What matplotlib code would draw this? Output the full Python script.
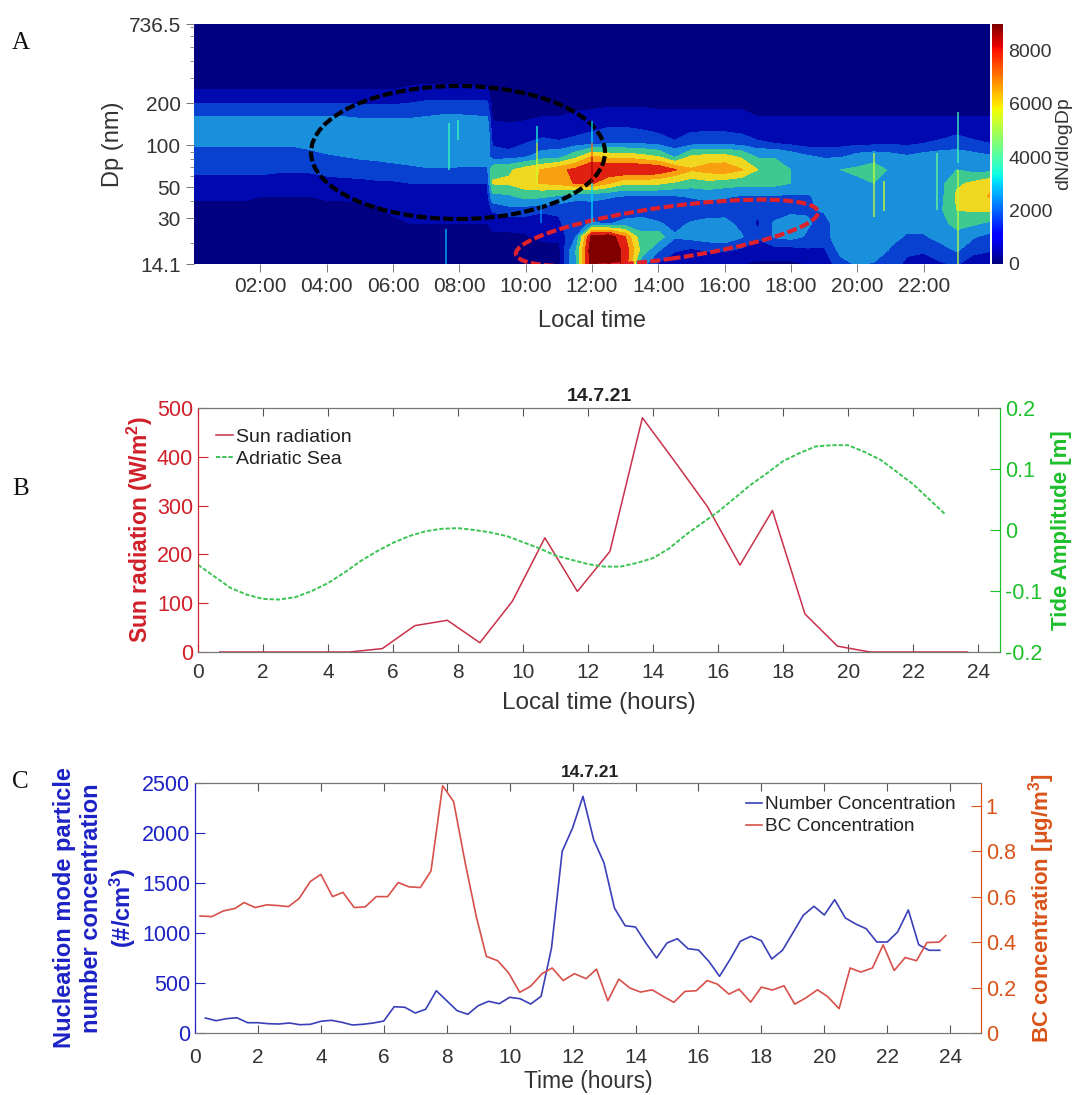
import numpy as np
import matplotlib
matplotlib.use('Agg')
import matplotlib.pyplot as plt
from matplotlib.cm import ScalarMappable
from matplotlib.colors import Normalize
from matplotlib.patches import Ellipse
from matplotlib.transforms import IdentityTransform

plt.rcParams['font.family'] = ['Liberation Sans', 'DejaVu Sans']
plt.rcParams['mathtext.fontset'] = 'custom'
plt.rcParams['mathtext.rm'] = 'Liberation Sans'
plt.rcParams['mathtext.it'] = 'Liberation Sans:italic'
plt.rcParams['mathtext.bf'] = 'Liberation Sans:bold'

W, H = 1086, 1095

# panel A, size distribution (hundreds of dN/dlogDp)
map_hours = [0, 0.5, 1, 1.5, 2, 2.5, 3, 3.5, 4, 4.5, 5, 5.5, 6, 6.5, 7, 7.5, 8, 8.85,
             9.0, 9.5, 10, 10.5, 11, 11.5, 12, 12.5, 13, 13.5, 14, 14.5, 15, 15.5,
             16, 16.5, 17, 17.5, 18, 18.5, 19, 19.5, 20, 20.5, 21, 21.5, 22, 22.5, 23, 23.5, 24]
map_dp = [14.1, 17.8, 22.1, 27.6, 34.4, 42.9, 53.4, 66.6, 82.8, 103, 129, 160, 200, 249, 310, 736.5]
map_rows = [
    [2, 2, 2, 2, 2, 2, 2, 2, 2, 2, 2, 2, 2, 2, 2, 2, 2, 2,
     2, 2, 2, 3, 4, 30, 85, 88, 72, 25, 12, 8, 8, 7, 6, 6, 5, 5, 5, 6, 8, 18, 22, 20, 15, 12, 10, 12, 14, 8, 6],
    [2, 2, 2, 2, 2, 2, 2, 2, 2, 2, 2, 2, 2, 2, 3, 3, 3, 3,
     3, 3, 3, 3, 4, 30, 88, 90, 72, 40, 22, 14, 12, 14, 14, 12, 10, 10, 10, 12, 12, 24, 28, 28, 20, 14, 14, 18, 22, 16, 14],
    [3, 3, 3, 3, 3, 3, 3, 3, 3, 3, 3, 3, 4, 4, 5, 5, 5, 5,
     5, 5, 5, 8, 8, 20, 82, 85, 65, 35, 38, 22, 24, 26, 28, 22, 14, 22, 24, 20, 18, 26, 30, 30, 24, 20, 20, 24, 28, 22, 18],
    [3, 3, 3, 3, 3, 3, 3, 3, 3, 3, 3, 4, 5, 6, 6, 6, 6, 6,
     8, 8, 10, 10, 12, 18, 22, 20, 24, 26, 22, 18, 22, 24, 24, 18, 12, 22, 26, 22, 18, 26, 30, 30, 26, 24, 24, 28, 36, 34, 30],
    [4, 4, 4, 4, 4, 4, 4, 4, 4, 4, 5, 5, 7, 8, 9, 9, 10, 10,
     14, 18, 16, 14, 14, 15, 16, 15, 14, 14, 14, 13, 14, 15, 16, 15, 14, 16, 18, 20, 22, 28, 30, 28, 28, 26, 26, 30, 44, 46, 46],
    [7, 7, 7, 7, 6, 6, 6, 6, 7, 7, 7, 8, 9, 10, 11, 11, 11, 11,
     28, 30, 36, 34, 30, 24, 24, 22, 20, 20, 20, 20, 22, 24, 22, 20, 20, 20, 19, 20, 24, 26, 28, 28, 26, 26, 26, 28, 46, 50, 56],
    [10, 10, 10, 10, 10, 10, 10, 10, 11, 11, 11, 12, 12, 13, 13, 13, 13, 13,
     45, 46, 52, 56, 58, 66, 66, 56, 46, 48, 46, 42, 38, 40, 38, 36, 36, 36, 32, 26, 26, 30, 30, 32, 30, 28, 28, 28, 42, 46, 52],
    [15, 15, 15, 15, 15, 14, 14, 14, 15, 16, 17, 17, 18, 19, 20, 20, 20, 20,
     40, 42, 50, 56, 62, 68, 76, 76, 77, 76, 74, 66, 56, 60, 62, 56, 44, 44, 32, 27, 27, 32, 34, 38, 30, 26, 28, 30, 32, 28, 28],
    [18, 18, 18, 18, 18, 18, 18, 19, 20, 21, 22, 23, 24, 25, 26, 26, 25, 24,
     16, 16, 20, 26, 28, 40, 56, 52, 52, 48, 44, 30, 46, 48, 48, 42, 30, 30, 26, 22, 20, 20, 24, 26, 24, 22, 24, 26, 26, 24, 22],
    [22, 22, 22, 22, 22, 22, 22, 23, 25, 25, 26, 26, 27, 28, 28, 28, 28, 27,
     12, 10, 13, 15, 14, 16, 18, 20, 20, 20, 18, 14, 17, 18, 18, 17, 14, 13, 11, 9, 10, 10, 11, 11, 12, 11, 13, 14, 16, 14, 13],
    [27, 27, 27, 27, 27, 27, 27, 27, 27, 27, 27, 27, 27, 27, 27, 27, 27, 26,
     8, 7, 8, 10, 9, 10, 12, 14, 14, 13, 11, 9, 12, 12, 12, 11, 9, 8, 8, 7, 7, 7, 8, 8, 8, 8, 9, 10, 11, 10, 9],
    [21, 21, 21, 21, 21, 21, 21, 21, 21, 21, 20, 20, 20, 20, 21, 22, 22, 21,
     5, 5, 5, 6, 6, 7, 7, 8, 8, 8, 7, 7, 7, 7, 7, 7, 6, 6, 6, 6, 6, 6, 6, 6, 6, 6, 6, 6, 6, 6, 6],
    [13, 13, 13, 13, 13, 13, 13, 13, 13, 13, 12, 12, 12, 13, 14, 14, 14, 14,
     3, 3, 3, 3, 4, 4, 5, 5, 5, 5, 5, 5, 5, 5, 5, 5, 5, 5, 5, 5, 5, 5, 5, 5, 5, 5, 5, 5, 5, 5, 5],
    [6, 6, 6, 6, 6, 6, 6, 6, 6, 6, 6, 6, 6, 7, 8, 8, 8, 7,
     1, 1, 1, 1, 1, 1, 2, 2, 2, 2, 2, 2, 2, 2, 2, 2, 2, 2, 2, 2, 2, 2, 2, 2, 2, 2, 2, 2, 2, 2, 2],
    [3, 3, 3, 3, 3, 3, 3, 3, 3, 3, 3, 3, 3, 3, 3, 3, 3, 3,
     1, 1, 1, 1, 1, 1, 1, 1, 1, 1, 1, 1, 1, 1, 1, 1, 1, 1, 1, 1, 1, 1, 1, 1, 1, 1, 1, 1, 1, 1, 1],
    [1, 1, 1, 1, 1, 1, 1, 1, 1, 1, 1, 1, 1, 1, 1, 1, 1, 1,
     1, 1, 1, 1, 1, 1, 1, 1, 1, 1, 1, 1, 1, 1, 1, 1, 1, 1, 1, 1, 1, 1, 1, 1, 1, 1, 1, 1, 1, 1, 1],
]
# short bursts: hour, lower Dp, upper Dp, value
spike_hours = [7.7, 7.95, 7.6, 10.33, 10.33, 10.45, 12.0, 12.0, 12.0, 20.5, 20.8, 22.4, 23.05, 23.05, 12.0]
spike_low = [66.6, 109, 14.2, 53.4, 103, 27.6, 53.4, 27.6, 82, 30.8, 34, 34.4, 74, 14.2, 103]
spike_high = [143, 152, 25, 103, 136, 40, 82, 53.4, 103, 87.6, 55, 87.6, 174, 66, 150]
spike_value = [3800, 3800, 2800, 5400, 3500, 2400, 8600, 3000, 7200, 5300, 5500, 4300, 3900, 5200, 3000]

map_ticks = ['02:00', '04:00', '06:00', '08:00', '10:00', '12:00', '14:00', '16:00', '18:00', '20:00', '22:00']
band_edges = [0, 600, 1300, 2100, 3200, 4400, 5500, 6500, 7700, 9000]
band_cols = ['#000080', '#0008b0', '#0840d0', '#1a90dc', '#3fc890', '#f0d820', '#f8a010', '#e02010', '#800000']

# panel B
sun_hours = [0.67, 1.67, 2.67, 3.67, 4.67, 5.67, 6.67, 7.67, 8.67, 9.67, 10.67, 11.67, 12.67,
             13.67, 14.67, 15.67, 16.67, 17.67, 18.67, 19.67, 20.67, 21.67, 22.67, 23.67]
sun_rad = [0, 0, 0, 0, 0, 7, 54, 65, 19, 104, 234, 124, 206, 480, 390, 298, 178, 290, 78, 12, 0, 0, 0, 0]
tide_hours = [0, 0.5, 1, 1.5, 2, 2.5, 3, 3.5, 4, 4.5, 5, 5.5, 6, 6.5, 7, 7.5, 8, 8.5, 9, 9.5, 10, 10.5,
              11, 11.5, 12, 12.5, 13, 13.5, 14, 14.5, 15, 15.5, 16, 16.5, 17, 17.5, 18, 18.5, 19, 19.5,
              20, 20.5, 21, 21.5, 22, 22.5, 23]
tide_amp = [-0.057, -0.076, -0.095, -0.106, -0.113, -0.114, -0.110, -0.100, -0.087, -0.070, -0.051, -0.035,
            -0.021, -0.010, -0.002, 0.002, 0.003, 0.000, -0.004, -0.010, -0.020, -0.030, -0.042, -0.049,
            -0.056, -0.060, -0.060, -0.054, -0.046, -0.030, -0.008, 0.011, 0.030, 0.052, 0.074, 0.093, 0.113,
            0.126, 0.137, 0.139, 0.139, 0.128, 0.115, 0.095, 0.075, 0.050, 0.025]

# panel C
num_hours = [0.33, 0.67, 1, 1.33, 1.67, 2, 2.33, 2.67, 3, 3.33, 3.67, 4, 4.33, 4.67, 5, 5.33, 5.67, 6, 6.33,
             6.67, 7, 7.33, 7.67, 8, 8.33, 8.67, 9, 9.33, 9.67, 10, 10.33, 10.67, 11, 11.33, 11.67, 12, 12.33,
             12.67, 13, 13.33, 13.67, 14, 14.33, 14.67, 15, 15.33, 15.67, 16, 16.33, 16.67, 17, 17.33, 17.67,
             18, 18.33, 18.67, 19, 19.33, 19.67, 20, 20.33, 20.67, 21, 21.33, 21.67, 22, 22.33, 22.67, 23,
             23.33, 23.67]
num_conc = [150, 123, 143, 153, 103, 103, 93, 90, 100, 83, 87, 117, 127, 107, 80, 87, 100, 120, 263,
            257, 200, 237, 423, 323, 223, 187, 273, 317, 293, 357, 343, 290, 367, 850, 1817, 2050, 2367,
            1933, 1700, 1250, 1073, 1060, 900, 750, 900, 943, 843, 830, 717, 567, 733, 917, 967,
            923, 740, 827, 1000, 1177, 1267, 1180, 1333, 1150, 1090, 1043, 910, 910, 1010, 1230, 883,
            827, 827]
bc_hours = [0.16, 0.53, 0.90, 1.27, 1.56, 1.91, 2.28, 2.62, 2.97, 3.31, 3.66, 4.0, 4.37, 4.70, 5.06, 5.41,
            5.76, 6.12, 6.46, 6.80, 7.16, 7.50, 7.87, 8.22, 8.59, 8.94, 9.26, 9.62, 9.97, 10.32, 10.66,
            11.03, 11.35, 11.70, 12.06, 12.43, 12.76, 13.12, 13.47, 13.82, 14.16, 14.53, 14.88, 15.22,
            15.57, 15.93, 16.28, 16.60, 16.97, 17.29, 17.66, 18.0, 18.35, 18.72, 19.06, 19.41, 19.78,
            20.10, 20.47, 20.82, 21.16, 21.53, 21.87, 22.22, 22.57, 22.93, 23.26, 23.65, 23.86]
bc_conc = [.515, .512, .537, .548, .574, .552, .564, .561, .556, .592, .666, .698, .600, .619, .552, .555,
           .600, .600, .662, .643, .640, .713, 1.088, 1.018, .747, .512, .337, .318, .264, .179, .205,
           .261, .286, .231, .261, .239, .281, .142, .237, .198, .180, .190, .161, .135,
           .183, .186, .231, .215, .171, .193, .136, .202, .189, .208, .127, .154, .190,
           .161, .107, .286, .268, .286, .388, .275, .332, .318, .398, .400, .429]


def box(left, top, right, bottom):
    return [left / W, 1 - bottom / H, (right - left) / W, (bottom - top) / H]


INK = '#333333'
SUN = '#d0202a'
TIDE = '#1dbf2b'
NAVY = '#1c22c4'
ORANGE = '#d95319'

fig = plt.figure(figsize=(W / 100, H / 100), dpi=100)

# --- A ---
ax = fig.add_axes(box(194, 24, 990, 264))
grid = np.array(map_rows) * 100.0
ax.contourf(map_hours, map_dp, grid, levels=band_edges, colors=band_cols)
ax.vlines(spike_hours, spike_low, spike_high, colors=[plt.cm.jet(v / 9000) for v in spike_value], lw=1.2, alpha=0.8)
ax.set_yscale('log')
ax.set_xlim(0, 24)
ax.set_ylim(14.1, 736.5)
ax.set_xticks(np.arange(2, 24, 2))
ax.set_xticklabels(map_ticks, fontsize=15, color=INK)
ax.set_yticks([14.1, 30, 50, 100, 200, 736.5])
ax.set_yticklabels(['14.1', '30', '50', '100', '200', '736.5'], fontsize=15, color=INK)
ax.set_yticks([20, 40, 60, 70, 80, 90, 300, 400, 500, 600, 700], minor=True)
ax.set_yticklabels([], minor=True)
ax.tick_params(axis='both', which='major', length=6, width=0.7, color='#777777')
ax.tick_params(axis='y', which='minor', length=3, width=0.6, color='#777777')
ax.set_xlabel('Local time', fontsize=17, color=INK, labelpad=10)
ax.set_ylabel('Dp (nm)', fontsize=17, color=INK, labelpad=3)
for s in ax.spines.values():
    s.set_visible(False)
ax.add_patch(Ellipse((458, H - 152.5), 294, 133, fill=False, ec='black', lw=3, ls=(0, (2.4, 0.8)),
                     transform=IdentityTransform()))
ax.add_patch(Ellipse((667, H - 233), 305, 52, angle=8, fill=False, ec='#e0202a', lw=3, ls=(0, (2.4, 0.8)),
                     transform=IdentityTransform()))

cax = fig.add_axes(box(992, 24, 1003, 264))
cb = fig.colorbar(ScalarMappable(Normalize(0, 9000), 'jet'), cax=cax)
cb.set_ticks([0, 2000, 4000, 6000, 8000])
cb.ax.tick_params(length=0, labelsize=14, labelcolor=INK, pad=4)
cb.outline.set_visible(False)
cb.set_label('dN/dlogDp', fontsize=14, color=INK, labelpad=2)

# --- B ---
ax = fig.add_axes(box(198, 408, 1000, 652))
l1, = ax.plot(sun_hours, sun_rad, color='#c9304a', lw=1.1, label='Sun radiation')
ax.set_xlim(0, 24.67)
ax.set_ylim(0, 500)
ax.set_xticks(np.arange(0, 25, 2))
ax.set_yticks(np.arange(0, 501, 100))
ax.tick_params(axis='x', labelsize=15, labelcolor=INK, direction='in', length=6, width=0.8,
               color='#555555', top=True, pad=8)
ax.tick_params(axis='y', labelsize=15.5, labelcolor=SUN, direction='in', length=7, width=0.8, color=SUN)
ax.set_xlabel('Local time (hours)', fontsize=17.5, color=INK, labelpad=7)
ax.set_ylabel('Sun radiation (W/m$\\mathbf{^2}$)', fontsize=16.5, color=SUN, fontweight='bold', labelpad=1)
ax.set_title('14.7.21', fontsize=14, fontweight='bold', color='#222222', pad=5)
ax2 = ax.twinx()
l2, = ax2.plot(tide_hours, tide_amp, color='#3cc454', lw=1.4, ls=(0, (2.2, 1)), label='Adriatic Sea')
ax2.set_ylim(-0.2, 0.2)
ax2.set_yticks([-0.2, -0.1, 0, 0.1, 0.2])
ax2.set_yticklabels(['-0.2', '-0.1', '0', '0.1', '0.2'])
ax2.tick_params(axis='y', labelsize=15.5, labelcolor=TIDE, direction='in', length=7, width=0.8, color=TIDE)
ax2.set_ylabel('Tide Amplitude [m]', fontsize=16, color=TIDE, fontweight='bold', labelpad=6)
for a in (ax, ax2):
    a.spines['top'].set_color('#777777')
    a.spines['bottom'].set_color('#777777')
    a.spines['left'].set_color(SUN)
    a.spines['right'].set_color(TIDE)
ax.legend([l1, l2], ['Sun radiation', 'Adriatic Sea'], loc='upper left', frameon=False, fontsize=14,
          labelcolor='#222222', handlelength=0.9, handletextpad=0.15, labelspacing=0.25,
          bbox_to_anchor=(0.022, 0.918), borderaxespad=0, borderpad=0)

# --- C ---
ax = fig.add_axes(box(195, 783, 981, 1033))
l1, = ax.plot(num_hours, num_conc, color='#3a3fb8', lw=1.2)
ax.set_xlim(0, 24.98)
ax.set_ylim(0, 2500)
ax.set_xticks(np.arange(0, 25, 2))
ax.set_yticks(np.arange(0, 2501, 500))
ax.tick_params(axis='x', labelsize=15, labelcolor=INK, direction='in', length=6, width=0.8,
               color='#555555', top=True, pad=11)
ax.tick_params(axis='y', labelsize=15.5, labelcolor=NAVY, direction='in', length=7, width=0.8, color=NAVY)
ax.set_xlabel('Time (hours)', fontsize=16.5, color=INK, labelpad=2)
ax.set_ylabel('Nucleation mode particle\nnumber concentration\n(#/cm$\\mathbf{^3}$)', fontsize=17, color=NAVY,
              fontweight='bold', labelpad=3)
ax.set_title('14.7.21', fontsize=12.5, fontweight='bold', color='#222222', pad=4, x=0.502)
ax2 = ax.twinx()
l2, = ax2.plot(bc_hours, bc_conc, color='#d8504a', lw=1.2)
ax2.set_ylim(0, 1.1)
ax2.set_yticks([0, 0.2, 0.4, 0.6, 0.8, 1])
ax2.set_yticklabels(['0', '0.2', '0.4', '0.6', '0.8', '1'])
ax2.tick_params(axis='y', labelsize=15.5, labelcolor=ORANGE, direction='in', length=7, width=0.8, color=ORANGE)
ax2.set_ylabel('BC concentration [$\\mathbf{\\mu}$g/m$\\mathbf{^3}$]', fontsize=16, color=ORANGE,
               fontweight='bold', labelpad=7)
for a in (ax, ax2):
    a.spines['top'].set_color('#777777')
    a.spines['bottom'].set_color('#777777')
    a.spines['left'].set_color(NAVY)
    a.spines['right'].set_color(ORANGE)
ax.legend([l1, l2], ['Number Concentration', 'BC Concentration'], loc='upper right', frameon=False, fontsize=13.7,
          labelcolor='#222222', handlelength=0.85, handletextpad=0.15, labelspacing=0.25,
          bbox_to_anchor=(0.968, 0.948), borderaxespad=0, borderpad=0)

# panel letters
for letter, y in zip('ABC', [43, 489, 782]):
    fig.text(12 / W, 1 - y / H, letter, family='Liberation Serif', fontsize=18, color='#111111', va='center')

fig.savefig('out.png', dpi=100)
